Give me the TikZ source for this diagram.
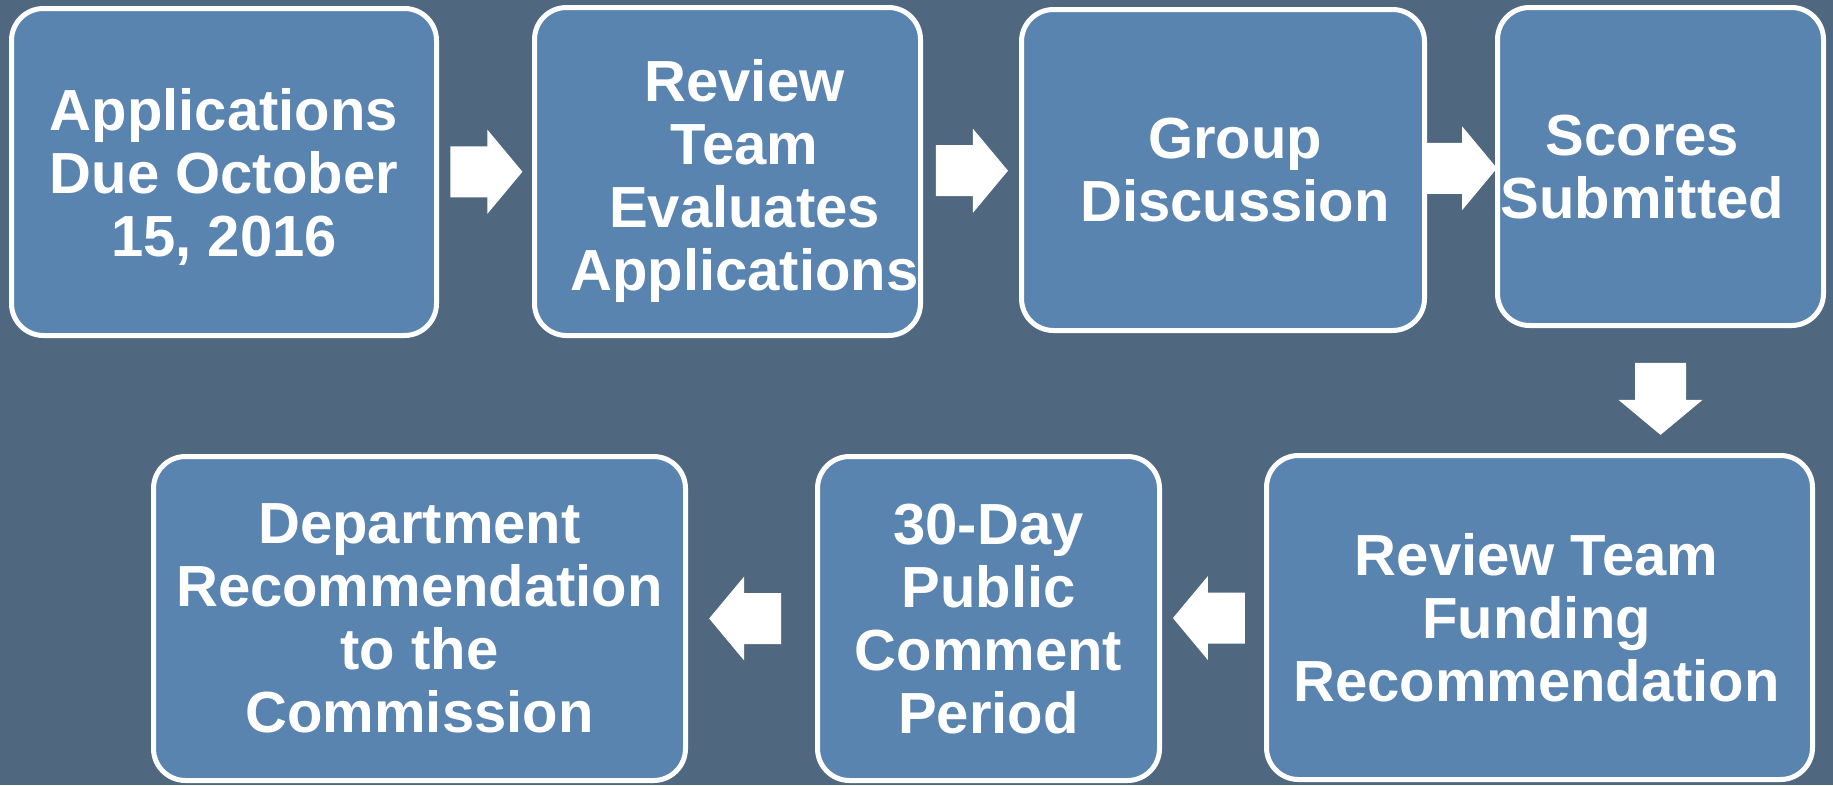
\documentclass[tikz,border=0pt]{standalone}
\usepackage{fontspec}
\setmainfont{Liberation Sans}
\usetikzlibrary{calc}
\definecolor{bgcol}{RGB}{79,104,128}
\definecolor{boxcol}{RGB}{90,132,176}
\begin{document}
\begin{tikzpicture}[x=1pt,y=-1pt,
  stepbox/.style={draw=white, line width=5pt, fill=boxcol, rounded corners=32pt, inner sep=0pt},
  lbl/.style={text=white, font=\fontsize{58}{63}\selectfont\bfseries, align=center, inner sep=0pt, text depth=0pt},
  blockarrow/.pic={\fill[white] (-36,-25.5) -- (1,-25.5) -- (1,-42) -- (36,0) -- (1,42) -- (1,25.5) -- (-36,25.5) -- cycle;}]
\fill[bgcol] (0,0) rectangle (1833,785);
\useasboundingbox (0,0) rectangle (1833,785);
% boxes
\node[stepbox, minimum width=425pt, minimum height=327pt] (b1) at (224,172) {};
\node[stepbox, minimum width=386pt, minimum height=328pt] (b2) at (727.5,171.5) {};
\node[stepbox, minimum width=403pt, minimum height=321pt] (b3) at (1223,170) {};
\node[stepbox, minimum width=326pt, minimum height=318pt] (b4) at (1660.5,166.5) {};
\node[stepbox, minimum width=546pt, minimum height=324pt] (b5) at (1539.5,617.5) {};
\node[stepbox, minimum width=342pt, minimum height=324pt] (b6) at (988.5,618.5) {};
\node[stepbox, minimum width=532pt, minimum height=324pt] (b7) at (419.5,618.5) {};
% texts
\node[lbl] (t1) at (b1.center) {Applications\\Due October\\15, 2016};
\node[lbl] (t2) at ([xshift=17pt,yshift=-3pt]b2.center) {Review\\Team\\Evaluates\\Applications};
\node[lbl] (t3) at ([xshift=12pt]b3.center) {Group\\Discussion};
\node[lbl] (t4) at ([xshift=-18pt]b4.center) {Scores\\Submitted};
\node[lbl] (t5) at ([xshift=-3pt]b5.center) {Review Team\\Funding\\Recommendation};
\node[lbl] (t6) at (b6.center) {30-Day\\Public\\Comment\\Period};
\node[lbl] (t7) at (b7.center) {Department\\Recommendation\\to the\\Commission};
% block arrows
\pic at ($(b1.east)!0.51!(b2.west)$) {blockarrow};
\pic at ($(b2.east)!0.51!(b3.west)$) {blockarrow};
\pic at ($(b3.east)!0.5!(b4.west)$) {blockarrow};
\pic[rotate=-90] at ($(b4.south)!0.567!(b4.south |- b5.north)$) {blockarrow};
\pic[rotate=180] at ($(b6.east)!0.46!(b5.west)$) {blockarrow};
\pic[rotate=180] at ($(b7.east)!0.45!(b6.west)$) {blockarrow};
\end{tikzpicture}
\end{document}
